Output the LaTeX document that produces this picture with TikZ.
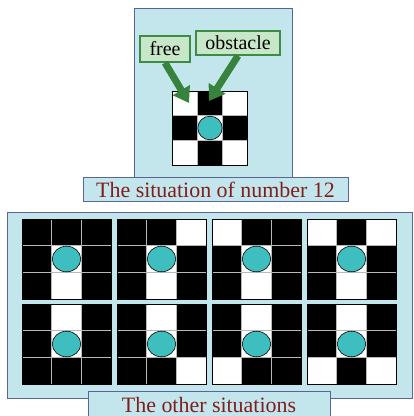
\documentclass[tikz,border=0pt]{standalone}
\usepackage{fontspec}
\setmainfont{Liberation Serif}
\usetikzlibrary{arrows.meta}
\definecolor{panelfill}{RGB}{195,230,236}
\definecolor{paneldraw}{RGB}{90,100,150}
\definecolor{labeltext}{RGB}{128,30,30}
\definecolor{boxfill}{RGB}{200,230,200}
\definecolor{boxdraw}{RGB}{60,140,70}
\definecolor{arrowgreen}{RGB}{55,130,60}
\definecolor{ballfill}{RGB}{62,190,190}
\definecolor{gridline}{RGB}{185,185,185}
\tikzset{
  panel/.style={fill=panelfill,draw=paneldraw,line width=1bp},
  labeltxt/.style={text=labeltext,font=\fontsize{22}{24}\selectfont,inner sep=0pt},
  tagbox/.style={fill=boxfill,draw=boxdraw,line width=1.5bp,inner sep=0pt,
    font=\fontsize{20}{22}\selectfont,text=black},
  greenarrow/.style={draw=arrowgreen,line width=7bp,
    -{Triangle[length=15bp,width=19bp]}},
  ball/.style={fill=ballfill,draw=black,line width=0.6bp},
}
% #1 x0, #2 y0, #3 cell w, #4 cell h, #5 nine colours
\newcommand\cellgrid[5]{%
  \foreach \c [count=\i from 0] in {#5}{%
    \pgfmathsetmacro\cx{#1+mod(\i,3)*#3}%
    \pgfmathsetmacro\cy{#2+int(\i/3)*#4}%
    \fill[\c] (\cx,\cy) rectangle ++(#3,#4);
  }
  \foreach \k in {1,2}{%
    \draw[gridline,line width=1.5bp] (#1+\k*#3,#2) -- ++(0,3*#4);
    \draw[gridline,line width=1.5bp] (#1,#2+\k*#4) -- ++(3*#3,0);
  }
  \draw[black,line width=1bp] (#1,#2) rectangle ++(3*#3,3*#4);
  \pgfmathsetmacro\rx{0.48*#3}%
  \pgfmathsetmacro\ry{0.48*#4}%
  \draw[ball] (#1+1.5*#3,#2+1.5*#4) ellipse [x radius=\rx bp, y radius=\ry bp];
}
\begin{document}
\begin{tikzpicture}[x=1bp,y=-1bp]
\useasboundingbox (0,0) rectangle (414,416);
% top panel
\draw[panel] (134,8) rectangle (292,180);
\draw[panel] (83,177) rectangle (348,201);
\node[labeltxt] (lab1) at (215.5,189.5) {The situation of number 12};
\node[tagbox,minimum width=50bp,minimum height=26bp] (free) at (165,49) {free};
\node[tagbox,minimum width=84bp,minimum height=24bp] (obst) at (238,43) {obstacle};
\cellgrid{172}{91}{25.33}{24.67}{white,black,white,black,white,black,white,black,white}
\coordinate (freetip) at (189,103);
\coordinate (obsttip) at (209,101);
\draw[greenarrow] (free.south) -- (freetip);
\draw[greenarrow] (obst.south) -- (obsttip);
% bottom panel
\draw[panel] (7,212) rectangle (412,398);
\cellgrid{22}{219}{29.67}{26.67}{black,black,black,black,white,black,black,white,black}
\cellgrid{117}{219}{29.67}{26.67}{black,black,white,black,white,black,black,white,black}
\cellgrid{212}{219}{29.67}{26.67}{white,black,black,black,white,black,black,white,black}
\cellgrid{307}{219}{29.67}{26.67}{white,black,white,black,white,black,black,white,black}
\cellgrid{22}{304}{29.67}{26.67}{black,white,black,black,white,black,black,black,black}
\cellgrid{117}{304}{29.67}{26.67}{black,white,black,black,white,black,black,black,white}
\cellgrid{212}{304}{29.67}{26.67}{black,white,black,black,white,black,white,black,black}
\cellgrid{307}{304}{29.67}{26.67}{black,white,black,black,white,black,white,black,white}
\draw[panel] (88,391) rectangle (330,424);
\node[labeltxt] (lab2) at (209,404.5) {The other situations};
\end{tikzpicture}
\end{document}
